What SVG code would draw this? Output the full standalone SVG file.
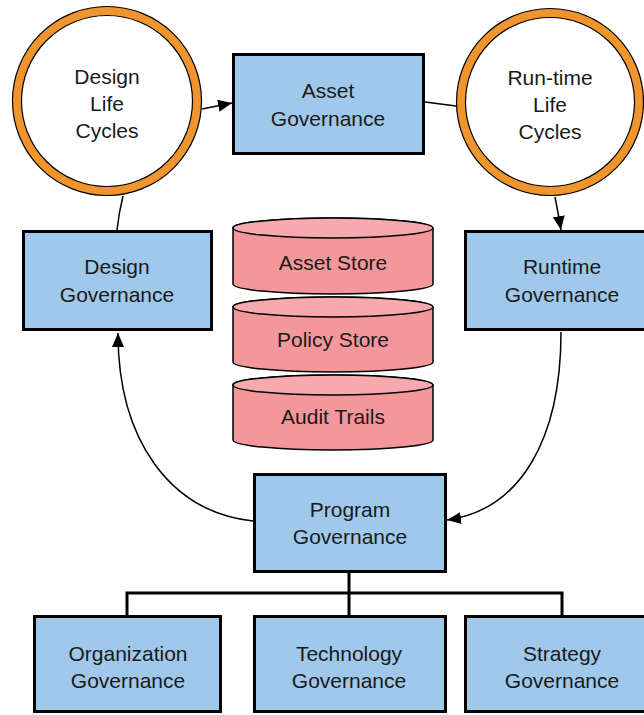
<svg xmlns="http://www.w3.org/2000/svg" width="644" height="715" viewBox="0 0 644 715">
  <defs>
    <marker id="arrow" viewBox="0 0 14 12" refX="14" refY="6" markerWidth="14" markerHeight="12" markerUnits="userSpaceOnUse" orient="auto">
      <path d="M0,0 L14,6 L0,12 Z" fill="#000"/>
    </marker>
  </defs>
  <style>
    .box { fill: #9FC8EA; stroke: #000; stroke-width: 3; }
    .ring { fill: #fff; stroke: #F0952E; stroke-width: 9; }
    .edge { fill: none; stroke: #000; stroke-width: 1.2; }
    .body { fill: #F4979B; stroke: #000; stroke-width: 1.5; }
    .lid { fill: #F7AAAE; stroke: #000; stroke-width: 1.5; }
    .lbl { font-family: "Liberation Sans", Arial, sans-serif; font-size: 21px; fill: #1a1a1a; text-anchor: middle; }
    .link { fill: none; stroke: #000; stroke-width: 1.5; }
    .tree { fill: none; stroke: #000; stroke-width: 3; }
  </style>
  <rect width="644" height="715" fill="#fff"/>

  <!-- connectors -->
  <g id="connectors">
    <path class="link" d="M202,109 L232,103" marker-end="url(#arrow)"/>
    <path class="link" d="M425,102 Q440,104 456,106"/>
    <path class="link" d="M123,196 Q119,212 117,230"/>
    <path class="link" d="M555,197 Q558,212 561,230" marker-end="url(#arrow)"/>
    <path class="link" d="M253,521 C170,512 118,440 118,333" marker-end="url(#arrow)"/>
    <path class="link" d="M561,332 C561,440 520,510 447,520" marker-end="url(#arrow)"/>
    <path class="tree" d="M349,573 L349,616 M127,616 L127,593 L562,593 L562,616"/>
  </g>

  <!-- life cycle rings -->
  <g id="design-life-cycles">
    <circle class="ring" cx="107" cy="101" r="90"/>
    <circle class="edge" cx="107" cy="101" r="94.5"/>
    <circle class="edge" cx="107" cy="101" r="85.5"/>
    <text class="lbl" x="107" y="84">Design</text>
    <text class="lbl" x="107" y="111">Life</text>
    <text class="lbl" x="107" y="138">Cycles</text>
  </g>
  <g id="runtime-life-cycles">
    <circle class="ring" cx="550" cy="102" r="89"/>
    <circle class="edge" cx="550" cy="102" r="93.5"/>
    <circle class="edge" cx="550" cy="102" r="84.5"/>
    <text class="lbl" x="550" y="85">Run-time</text>
    <text class="lbl" x="550" y="112">Life</text>
    <text class="lbl" x="550" y="139">Cycles</text>
  </g>

  <!-- governance boxes -->
  <g id="asset-governance">
    <rect class="box" x="233.5" y="54.5" width="190" height="99"/>
    <text class="lbl" x="328" y="98">Asset</text>
    <text class="lbl" x="328" y="126">Governance</text>
  </g>
  <g id="design-governance">
    <rect class="box" x="23.5" y="231.5" width="188" height="98"/>
    <text class="lbl" x="117" y="274">Design</text>
    <text class="lbl" x="117" y="302">Governance</text>
  </g>
  <g id="runtime-governance">
    <rect class="box" x="465.5" y="231.5" width="186" height="98"/>
    <text class="lbl" x="562" y="274">Runtime</text>
    <text class="lbl" x="562" y="302">Governance</text>
  </g>
  <g id="program-governance">
    <rect class="box" x="254.5" y="474.5" width="191" height="97"/>
    <text class="lbl" x="350" y="517">Program</text>
    <text class="lbl" x="350" y="544">Governance</text>
  </g>
  <g id="organization-governance">
    <rect class="box" x="34.5" y="616.5" width="186" height="95"/>
    <text class="lbl" x="128" y="661">Organization</text>
    <text class="lbl" x="128" y="688">Governance</text>
  </g>
  <g id="technology-governance">
    <rect class="box" x="254.5" y="616.5" width="191" height="95"/>
    <text class="lbl" x="349" y="661">Technology</text>
    <text class="lbl" x="349" y="688">Governance</text>
  </g>
  <g id="strategy-governance">
    <rect class="box" x="465.5" y="616.5" width="186" height="95"/>
    <text class="lbl" x="562" y="661">Strategy</text>
    <text class="lbl" x="562" y="688">Governance</text>
  </g>

  <!-- data stores -->
  <g id="asset-store">
    <path class="body" d="M233,228 L233,284 A100,10 0 0 0 433,284 L433,228 A100,10 0 0 0 233,228 Z"/>
    <ellipse class="lid" cx="333" cy="228" rx="100" ry="10"/>
    <text class="lbl" x="333" y="270">Asset Store</text>
  </g>
  <g id="policy-store">
    <path class="body" d="M233,307 L233,362 A100,10 0 0 0 433,362 L433,307 A100,10 0 0 0 233,307 Z"/>
    <ellipse class="lid" cx="333" cy="307" rx="100" ry="10"/>
    <text class="lbl" x="333" y="347">Policy Store</text>
  </g>
  <g id="audit-trails">
    <path class="body" d="M233,385 L233,440 A100,10 0 0 0 433,440 L433,385 A100,10 0 0 0 233,385 Z"/>
    <ellipse class="lid" cx="333" cy="385" rx="100" ry="10"/>
    <text class="lbl" x="333" y="424">Audit Trails</text>
  </g>
</svg>
